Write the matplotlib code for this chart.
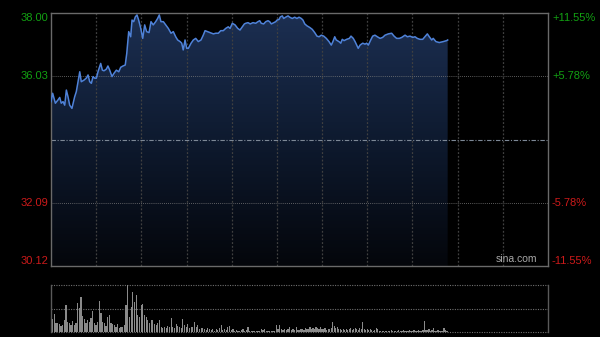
import matplotlib
matplotlib.use("Agg")
import matplotlib.pyplot as plt
import numpy as np
from matplotlib.colors import LinearSegmentedColormap

plt.rcParams['font.family'] = ['Liberation Sans', 'DejaVu Sans']

# intraday price (minutes from open, HK session 330 min)
t = [0, 1.1, 2.9, 4.6, 5.8, 6.8, 8.0, 9.1, 10.2, 11.3, 12.4, 13.9, 15.7, 16.8, 19.1, 20.1,
     21.9, 23.4, 24.6, 25.7, 26.8, 27.9, 29.0, 30.1, 31.2, 33.0, 34.1, 35.2, 36.7, 37.8, 39.0,
     40.5, 41.8, 43.4, 45.0, 46.3, 47.8, 49.3, 50.3, 51.6, 52.9, 53.8, 54.9, 56.0, 57.1, 58.2,
     59.6, 60.9, 62.2, 63.5, 65.1, 66.4, 67.9, 69.5, 70.8, 71.9, 73.0, 74.6, 76.2, 77.9, 79.7,
     81.2, 82.8, 84.1, 85.7, 86.8, 87.8, 89.0, 90.1, 91.2, 93.0, 94.5, 96.1, 97.8, 99.6, 101.1,
     102.3, 104.0, 105.6, 107.8, 109.4, 111.1, 112.7, 114.4, 116.0, 117.7, 118.9, 120.4, 122.2,
     124.0, 125.5, 127.0, 128.4, 129.3, 130.8, 132.3, 134.1, 135.9, 137.4, 138.6, 139.6, 141.2,
     142.6, 144.1, 145.2, 146.3, 147.9, 149.2, 150.1, 151.4, 152.3, 153.6, 154.5, 155.8, 157.4,
     158.5, 160.2, 161.8, 163.3, 164.7, 166.2, 167.3, 168.5, 170.0, 171.8, 173.5, 175.1, 176.6,
     178.0, 179.5, 181.1, 182.8, 184.6, 186.1, 187.2, 188.4, 189.4, 191.2, 192.4, 193.4, 194.6,
     196.3, 198.1, 199.2, 200.7, 201.9, 203.0, 204.0, 205.2, 207.0, 208.5, 209.6, 210.7, 212.3,
     213.6, 215.1, 216.7, 218.5, 220.2, 221.8, 224.0, 226.2, 227.8, 229.5, 231.3, 232.9, 235.1,
     236.6, 238.4, 240.2, 241.7, 243.2, 245.0, 246.8, 248.3, 249.9, 251.2, 252.8, 253.8, 255.6,
     257.8, 260.5, 262.7, 263.4]
price = [35.24, 35.50, 35.19, 35.29, 35.37, 35.19, 35.24, 35.13, 35.60, 35.39, 35.13, 35.03,
         35.39, 35.55, 36.17, 35.86, 35.91, 35.97, 36.07, 35.86, 35.81, 36.02, 35.97, 35.97,
         36.17, 36.43, 36.22, 36.20, 36.25, 36.35, 36.22, 36.02, 36.12, 36.22, 36.17, 36.31,
         36.35, 36.38, 36.74, 37.42, 37.26, 37.78, 37.73, 37.88, 37.94, 37.78, 37.52, 37.21,
         37.63, 37.42, 37.39, 37.73, 37.63, 37.73, 37.83, 37.94, 37.73, 37.73, 37.63, 37.52,
         37.37, 37.42, 37.26, 37.16, 37.11, 37.06, 36.85, 37.16, 36.90, 36.90, 37.06, 37.16,
         37.21, 37.11, 37.16, 37.31, 37.45, 37.42, 37.39, 37.35, 37.37, 37.37, 37.45, 37.45,
         37.52, 37.57, 37.52, 37.68, 37.63, 37.52, 37.47, 37.57, 37.66, 37.68, 37.70, 37.66,
         37.70, 37.68, 37.73, 37.76, 37.68, 37.66, 37.73, 37.76, 37.73, 37.66, 37.70, 37.73,
         37.78, 37.80, 37.88, 37.91, 37.83, 37.87, 37.91, 37.87, 37.83, 37.87, 37.83, 37.87,
         37.83, 37.78, 37.66, 37.60, 37.55, 37.49, 37.39, 37.28, 37.26, 37.31, 37.28, 37.21,
         37.11, 37.00, 37.11, 37.26, 37.16, 37.11, 37.06, 37.18, 37.14, 37.18, 37.21, 37.28,
         37.21, 37.11, 37.00, 36.90, 37.00, 37.06, 37.03, 37.06, 37.00, 37.16, 37.28, 37.31,
         37.26, 37.21, 37.24, 37.31, 37.35, 37.37, 37.28, 37.21, 37.21, 37.24, 37.31, 37.26,
         37.28, 37.24, 37.26, 37.21, 37.18, 37.18, 37.26, 37.35, 37.26, 37.16, 37.21, 37.11,
         37.08, 37.11, 37.14, 37.16]

vol_a = [12, 12.7, 17.7, 9.3, 8.7, 8, 6, 7, 12, 27, 10, 8.7, 7, 11.3, 7, 8.7, 29, 24, 34.7, 16,
         12.7, 8.7, 12, 10.3, 13.7, 21.3, 8.7, 7, 10.3, 31, 18.7, 10.3, 8.7, 6, 15.3, 17, 8.7, 8,
         7, 5.3, 8, 3.7, 4.7, 5.3, 7, 27, 47, 15.3, 25.3, 40.3, 30.3, 37, 17, 15.3, 27, 27.7, 17,
         15.3, 12, 8.7, 12, 12, 8, 7, 8.7, 12, 5.3, 3.7, 4.7, 3.7, 6, 5.3, 13.7, 5.3, 3.7, 8, 6,
         4.7, 3.7, 12.7, 7, 5.3, 8, 3.7, 5.3, 5.3, 10.3, 4.7, 7, 2.7, 3.7, 3.7, 2.7, 2, 3.7, 2.7,
         2, 2.7, 1.3, 2.7, 2, 3.7, 7, 2, 2.7, 2, 4.7, 6, 2, 2.7, 1.3, 2, 1.3, 1, 2, 2.7, 1.3, 2,
         5.3, 0.7, 1.3, 1, 1.3, 1, 1.3, 1, 2.7, 2, 2.7, 1.3, 1, 1.3, 1, 1.3, 1, 7, 3, 7, 2.7, 2,
         3, 2, 2.7, 5.3, 2, 2.7, 2, 4.7, 2]
vol_b = [2, 2.7, 3, 2, 3.7, 2.7, 3, 5.3, 2.7, 4, 3, 5.3, 3.7, 2.7, 5.3, 3, 2.7, 3.7, 2, 2.7,
         3, 4, 10, 6, 3.7, 4.7, 3, 2.7, 2, 2.7, 2, 3, 2, 2.7, 3.7, 2, 2.7, 3.7, 2.7, 2, 3.7, 2.7,
         10, 2.7, 2, 2.7, 2, 2.7, 2, 1.3, 2, 3.7, 2.7, 1.3, 1, 1.3, 1, 1, 1.3, 1, 1.3, 1.7, 1,
         1.3, 1, 1.3, 1.7, 1, 1.3, 1.7, 1.3, 1, 1.3, 1.7, 1, 1.3, 2, 1.3, 1, 1.7, 1.3, 1, 2, 11,
         2, 1.7, 2.7, 1.3, 2, 3.7, 1.3, 1, 1.7, 1.3, 1, 1.3, 4, 1.7, 1.3]
vol_t = np.concatenate([np.linspace(0, 164, len(vol_a)), 165 + np.arange(len(vol_b))])
volume = vol_a + vol_b

prev_close = 34.06
left_ticks = [38.00, 36.03, 32.09, 30.12]
left_labels = ['38.00', '36.03', '32.09', '30.12']
right_labels = ['+11.55%', '+5.78%', '-5.78%', '-11.55%']
tick_colors = ['#12a012', '#12a012', '#cc1a1a', '#cc1a1a']

fig = plt.figure(figsize=(6, 3.37), dpi=100, facecolor='black')
ax = fig.add_axes([0.085, 0.2107, 0.8283, 0.7507], facecolor='black')
axv = fig.add_axes([0.085, 0.0148, 0.8283, 0.1395], facecolor='black')

ymin, ymax = 30.12, 38.00
ax.set_xlim(0, 330)
ax.set_ylim(ymin, ymax)

# gradient fill under price line
cmap = LinearSegmentedColormap.from_list('g', ['#04060b', '#0e1a2f', '#1c2f52'])
grad = np.linspace(0, 1, 256).reshape(-1, 1)
img = ax.imshow(grad, cmap=cmap, aspect='auto', origin='lower',
                extent=[0, 330, ymin, ymax], zorder=1)
poly = ax.fill_between(t, price, ymin, color='none', lw=0)
clip = plt.Polygon(np.vstack([np.column_stack([t, price]),
                              [[t[-1], ymin], [t[0], ymin]]]),
                   transform=ax.transData, facecolor='none', edgecolor='none')
ax.add_patch(clip)
img.set_clip_path(clip)

for xv in range(30, 330, 30):
    ax.axvline(xv, color='#404040', lw=0.9, ls=(0, (1.5, 1.5)), zorder=2)
for yv in [36.03, 32.09]:
    ax.axhline(yv, color='#7a7a7a', lw=0.6, ls=(0, (1, 1.5)), zorder=2)
ax.axhline(prev_close, color='#7d8896', lw=0.8, ls=(0, (4, 1.5, 1, 1.5)), zorder=2)

ax.plot(t, price, color='#4f82d8', lw=1.1, zorder=3)

for s in ax.spines.values():
    s.set_color('#6a6a6a')
    s.set_linewidth(1)
ax.set_xticks([])
ax.set_yticks([])

for i, v in enumerate(left_ticks):
    va = 'center'
    if i == 0:
        va = 'top'
    elif i == len(left_ticks) - 1:
        va = 'bottom'
    ax.text(-0.006, v, left_labels[i], transform=ax.get_yaxis_transform(),
            ha='right', va=va, color=tick_colors[i], fontsize=8)
    ax.text(1.008, v, right_labels[i], transform=ax.get_yaxis_transform(),
            ha='left', va=va, color=tick_colors[i], fontsize=8)

ax.text(0.978, 0.006, 'sina.com', transform=ax.transAxes, ha='right', va='bottom',
        color='#a8a8a8', fontsize=7.5)

# volume panel
axv.set_xlim(0, 330)
axv.set_ylim(0, 47)
axv.bar(vol_t, volume, width=0.8, color='#8a8a8a', zorder=2)
for yv in [0, 23.5, 47]:
    axv.axhline(yv, color='#707070', lw=0.8, ls=(0, (1, 1.2)), zorder=1, clip_on=False)
for side in ['top', 'bottom']:
    axv.spines[side].set_visible(False)
for side in ['left', 'right']:
    axv.spines[side].set_color('#5a5a5a')
    axv.spines[side].set_linewidth(1)
axv.set_xticks([])
axv.set_yticks([])

fig.savefig('out.png', dpi=100, facecolor='black')
